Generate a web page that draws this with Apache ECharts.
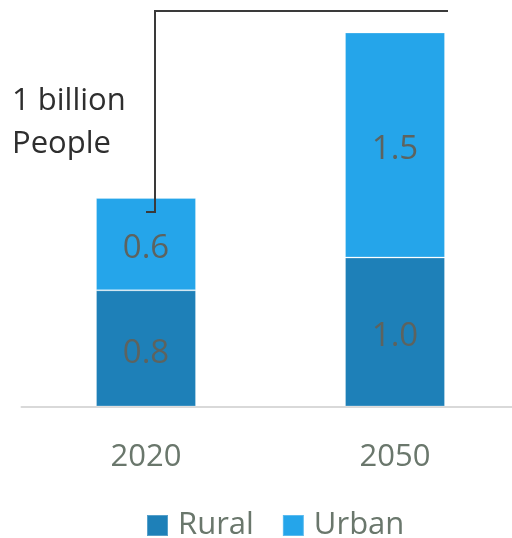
<!DOCTYPE html>
<html>
<head>
<meta charset="utf-8">
<script src="https://cdn.jsdelivr.net/npm/echarts@6/dist/echarts.min.js"></script>
<style>html,body{margin:0;padding:0;background:#fff}#c{width:512px;height:538px}</style>
</head>
<body>
<div id="c"></div>
<script>
const categories = ['2020', '2050'];
const rural = [0.78, 1.0];
const urban = [0.62, 1.51];
const seriesNames = ['Rural', 'Urban'];
const annotationLines = ['1 billion', 'People'];

const FONT = '"Open Sans", sans-serif';
const chart = echarts.init(document.getElementById('c'));
const labelCfg = {
  show: true, position: 'inside', fontFamily: FONT, fontSize: 33, offset: [0, 5],
  color: '#5d635f', formatter: p => p.value.toFixed(1)
};
chart.setOption({
  animation: false,
  grid: { left: 21.5, width: 498, top: 4.2, bottom: 131.5, outerBoundsMode: 'none', containLabel: false },
  xAxis: {
    type: 'category', data: categories,
    axisLine: { lineStyle: { color: '#d9d9d9', width: 2 } },
    axisTick: { show: false },
    axisLabel: { fontFamily: FONT, fontSize: 31, color: '#6a776c', margin: 35 }
  },
  yAxis: { type: 'value', min: 0, max: 2.7, show: false, splitLine: { show: false } },
  legend: {
    left: 141, top: 505, icon: 'rect', itemWidth: 21, itemHeight: 21, itemGap: 28,
    textStyle: { fontFamily: FONT, fontSize: 31, color: '#6a776c', padding: [0, 0, 0, 5] },
    data: seriesNames
  },
  series: [
    { name: seriesNames[0], type: 'bar', stack: 't', data: rural, barWidth: 100,
      itemStyle: { color: '#1e80b8', borderColor: 'rgba(255,255,255,0.25)', borderWidth: 1 },
      label: labelCfg },
    { name: seriesNames[1], type: 'bar', stack: 't', data: urban, barWidth: 100,
      itemStyle: { color: '#25a5ea', borderColor: 'rgba(255,255,255,0.25)', borderWidth: 1 },
      label: labelCfg }
  ],
  graphic: [
    { type: 'polyline', z: 100, shape: { points: [[146, 212], [155, 212], [155, 11], [448, 11]] },
      style: { stroke: '#3a3a3a', lineWidth: 2, fill: null } },
    { type: 'text', left: 12, top: 80, z: 100,
      style: { text: annotationLines.join('\n'), fontFamily: FONT, fontSize: 31, lineHeight: 43, fill: '#2e2e2e' } }
  ]
});
</script>
</body>
</html>
